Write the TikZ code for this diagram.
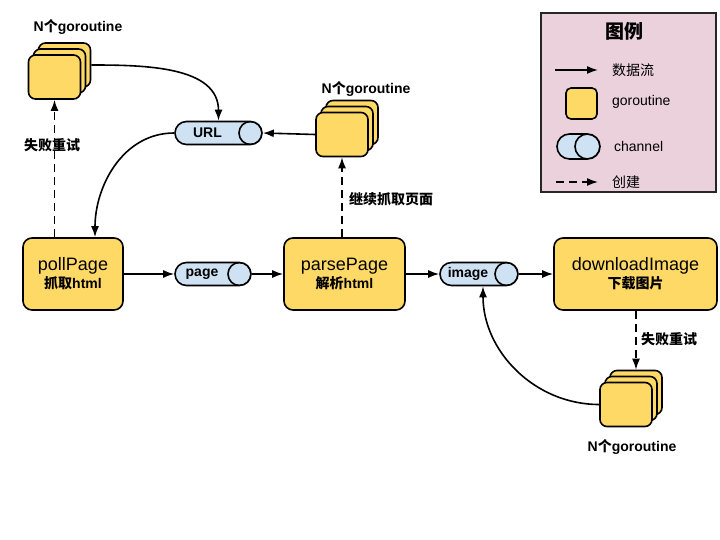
\documentclass[tikz,border=0pt]{standalone}
\usepackage{fontspec}
\setmainfont{Liberation Sans}
\newfontfamily\cjk{Noto Sans CJK SC}
\usepackage{xcolor}
\usetikzlibrary{arrows.meta}
\definecolor{routinefill}{HTML}{FFD966}
\definecolor{chanfill}{HTML}{CFE2F3}
\definecolor{legendfill}{HTML}{EAD1DC}
\def\rowy{-274}

\begin{document}
\begin{tikzpicture}[x=1pt,y=1pt,line width=1.6pt,>={Latex[length=11pt,width=8pt]}]
    \tikzstyle{every node}=[font=\fontsize{14}{16}\selectfont]
    \tikzstyle{stage}=[draw,fill=routinefill,rounded corners=9pt,minimum width=100pt,minimum height=72pt,align=center,inner sep=0pt]
    \tikzstyle{routine}=[draw,fill=routinefill,rounded corners=7pt,minimum width=52pt,minimum height=44pt,inner sep=0pt]
    \tikzstyle{channel}=[draw,fill=chanfill,rounded corners=11.5pt,minimum width=76pt,minimum height=23pt,inner sep=0pt,
        font=\bfseries\fontsize{14}{16}\selectfont,execute at end node=\hspace*{22pt},
        path picture={\draw[line width=1.6pt] ([xshift=-11.5pt]path picture bounding box.east) circle (11.5pt);}]
    \tikzstyle{key channel}=[channel,rounded corners=12.5pt,minimum width=43pt,minimum height=25pt,
        path picture={\draw[line width=1.6pt] ([xshift=-12.5pt]path picture bounding box.east) circle (12.5pt);}]
    \tikzstyle{flow}=[->]
    \tikzstyle{spawn}=[->,dash pattern=on 8pt off 5pt]
    \tikzstyle{annot}=[font=\bfseries\fontsize{14}{16}\selectfont]

    \useasboundingbox (0,0) rectangle (720,-540);

    % Draw the three stages
    \node[stage] (poll) at (73,\rowy) {{\fontsize{18}{20}\selectfont pollPage}\\[2pt]{\bfseries{\cjk 抓取}html}};
    \node[stage, minimum width=121pt] (parse) at (344.5,\rowy) {{\fontsize{18}{20}\selectfont parsePage}\\[2pt]{\bfseries{\cjk 解析}html}};
    \node[stage, minimum width=163pt] (down) at (635.5,\rowy) {{\fontsize{18}{20}\selectfont downloadImage}\\[2pt]{\bfseries\cjk 下载图片}};

    % Draw the channels
    \node[channel] (page) at (213,\rowy) {page};
    \node[channel, minimum width=78pt] (image) at (479,\rowy) {image};
    \node[channel, minimum width=87pt] (url) at (218.5,-133) {URL};

    % Draw the goroutine stacks (back layers first)
    \foreach \k in {2,1}
        \node[routine] (G1-\k) at (54.5+\k*5,-77+\k*6) {};
    \node[routine] (G1) at (54.5,-77) {};
    \foreach \k in {2,1}
        \node[routine] (G2-\k) at (342+\k*5,-134.5+\k*6) {};
    \node[routine] (G2) at (342,-134.5) {};
    \foreach \k in {2,1}
        \node[routine] (G3-\k) at (626+\k*5,-404.5+\k*6) {};
    \node[routine] (G3) at (626,-404.5) {};

    \node[annot] (n1) at (78,-27) {N{\cjk 个}goroutine};
    \node[annot] (n2) at (366,-89) {N{\cjk 个}goroutine};
    \node[annot] (n3) at (632,-447) {N{\cjk 个}goroutine};

    % Data flow
    \draw[flow] (poll) -- (page);
    \draw[flow] (page) -- (parse);
    \draw[flow] (parse) -- (image);
    \draw[flow] (image) -- (down);
    \draw[flow] (G2.west) -- (url.east);
    \draw[flow] (G1-2.east) to[out=0,in=90] (url.north);
    \draw[flow] (url.west) to[out=180,in=90] ([xshift=22pt]poll.north);
    \draw[flow] (G3.west) to[out=180,in=-90] ([xshift=4pt]image.south);

    % Spawned goroutines
    \draw[spawn] (poll.north -| G1.south) -- (G1.south);
    \node[annot] (r1) at (52,-145) {\cjk 失败重试};
    \draw[spawn] (parse.north -| G2.south) -- (G2.south);
    \node[annot, anchor=west] (r2) at (345,-199) {\cjk 继续抓取页面};
    \draw[spawn] (down.south -| G3-2.north) -- (G3-2.north);
    \node[annot, anchor=west] (r3) at (637,-339) {\cjk 失败重试};

    % Legend
    \node[draw=black!85, line width=1.5pt, fill=legendfill, minimum width=175pt, minimum height=179pt] (legend) at (628.5,-102.5) {};
    \node[font=\bfseries\fontsize{19}{21}\selectfont] (lt) at (624,-31) {\cjk 图例};
    \coordinate (k1a) at (555,-70);
    \coordinate (k1b) at (598,-70);
    \draw[flow] (k1a) -- (k1b);
    \node[anchor=west] (k1) at (608,-70) {\cjk 数据流};
    \node[routine, minimum width=31pt, minimum height=31pt, rounded corners=5pt] (k2-sym) at (581.5,-103.5) {};
    \node[anchor=west] (k2) at (608,-102) {goroutine};
    \node[key channel] (k3-sym) at (578.5,-146.5) {};
    \node[anchor=west] (k3) at (610,-146) {channel};
    \coordinate (k4a) at (556,-182);
    \coordinate (k4b) at (598,-182);
    \draw[spawn] (k4a) -- (k4b);
    \node[anchor=west] (k4) at (608,-182) {\cjk 创建};
\end{tikzpicture}
\end{document}
